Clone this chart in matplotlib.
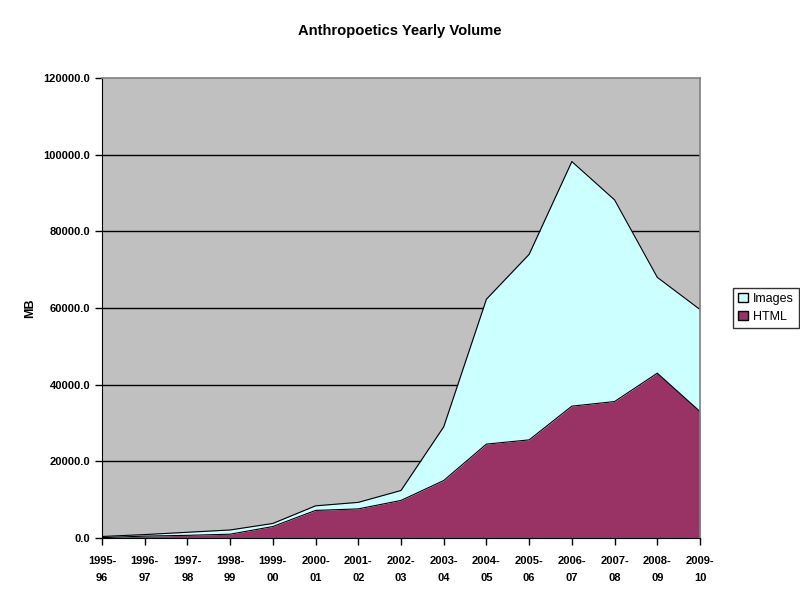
import matplotlib
matplotlib.use("Agg")
import matplotlib.pyplot as plt
import numpy as np
from matplotlib.patches import Patch

plt.rcParams['font.family'] = ['Liberation Sans', 'DejaVu Sans']

years = ["1995-\n96", "1996-\n97", "1997-\n98", "1998-\n99", "1999-\n00", "2000-\n01",
         "2001-\n02", "2002-\n03", "2003-\n04", "2004-\n05", "2005-\n06", "2006-\n07",
         "2007-\n08", "2008-\n09", "2009-\n10"]
html = [100, 500, 700, 1000, 3000, 7200, 7600, 9800, 15000, 24500, 25600, 34400, 35600, 43000, 33000]
images = [300, 400, 800, 1100, 800, 1200, 1700, 2600, 14000, 37800, 48400, 63800, 52600, 25000, 26600]

fig = plt.figure(figsize=(8, 6), dpi=100)
fig.patch.set_facecolor('white')
ax = fig.add_axes([0.1275, 0.1033, 0.7475, 0.7667])
ax.set_facecolor('#C0C0C0')

x = np.arange(len(years))
h = np.array(html)
t = h + np.array(images)

ax.set_ylim(0, 120000)
ax.set_xlim(0, len(years) - 1)
yt = np.arange(0, 120001, 20000)
ax.set_yticks(yt)
for v in yt[1:-1]:
    ax.axhline(v, color='black', linewidth=1, zorder=1)

ax.fill_between(x, 0, h, color='#993366', linewidth=0, zorder=2, label='HTML')
ax.fill_between(x, h, t, color='#CCFFFF', linewidth=0, zorder=2, label='Images')
ax.plot(x, h, color='black', linewidth=0.8, zorder=3)
ax.plot(x, t, color='black', linewidth=0.8, zorder=3)

ax.set_xticks(x)
ax.set_xticklabels(years, fontsize=8, fontweight='bold', linespacing=1.9)
ax.set_yticklabels([f"{v:.1f}" for v in yt], fontsize=8, fontweight='bold')
ax.tick_params(axis='both', direction='out', length=5, width=1, color='black')
ax.tick_params(axis='x', pad=8)

for side in ['top', 'right']:
    ax.spines[side].set_color('#808080')
    ax.spines[side].set_linewidth(1.2)
    ax.spines[side].set_zorder(4)
ax.spines['left'].set_color('black')
ax.spines['bottom'].set_color('black')
ax.spines['left'].set_zorder(4)
ax.spines['bottom'].set_zorder(4)

ax.set_ylabel('MB', fontsize=9, fontweight='bold', labelpad=5)
fig.text(0.5, 0.948, 'Anthropoetics Yearly Volume', ha='center', va='center',
         fontsize=10.6, fontweight='bold')

handles = [Patch(facecolor='#CCFFFF', edgecolor='black', label='Images'),
           Patch(facecolor='#993366', edgecolor='black', label='HTML')]
leg = fig.legend(handles=handles, loc='center left', bbox_to_anchor=(0.908, 0.487),
                 fontsize=9, frameon=True, fancybox=False, handlelength=0.8,
                 handleheight=0.8, handletextpad=0.4, borderpad=0.4, labelspacing=0.5)
leg.get_frame().set_edgecolor('black')
leg.get_frame().set_linewidth(1)

fig.savefig('out.png', dpi=100)
